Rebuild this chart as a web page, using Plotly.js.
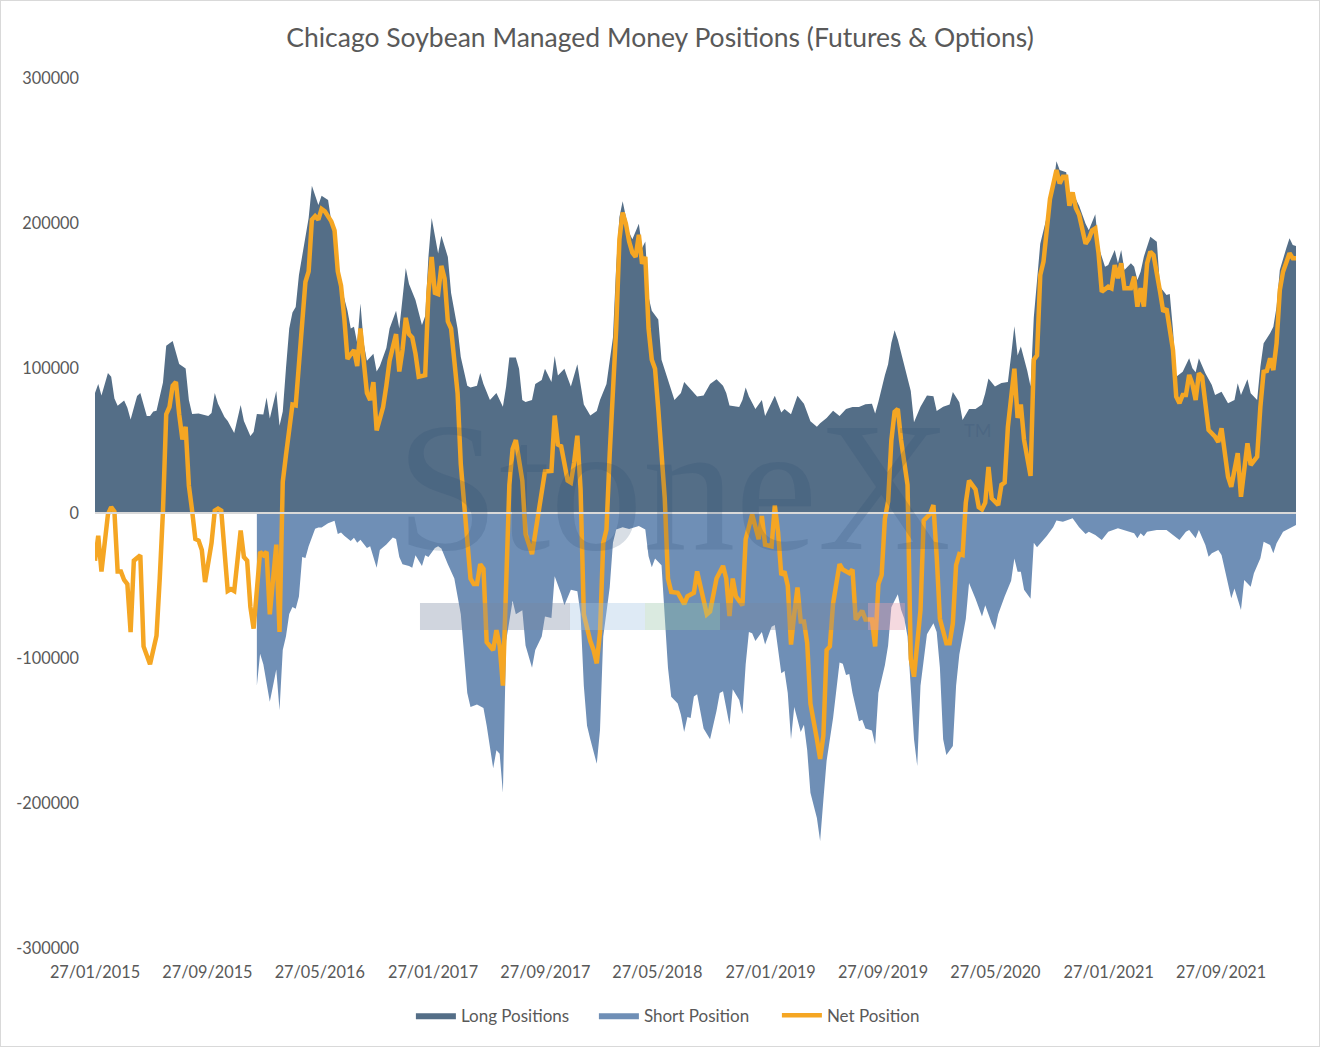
<!DOCTYPE html>
<html>
<head>
<meta charset="utf-8">
<script src="https://cdn.plot.ly/plotly-3.0.1.min.js"></script>
<style>
  body { margin: 0; background: #ffffff; }
  #myDiv { width: 1318px; height: 1045px; border: 1px solid #d9d9d9; }
</style>
</head>
<body>
<div id="myDiv"></div>
<script>
// Semanas contadas desde el 27/01/2015 (dato semanal del COT)
const longWeeks = [
    0, 1, 2, 4, 5, 6, 7, 9, 10, 11,
    13, 14, 16, 17, 18, 19, 21, 22, 24, 26,
    28, 29, 30, 32, 35, 36, 37, 38, 40, 41,
    43, 45, 46, 48, 49, 50, 52, 53, 54, 56,
    57, 58, 59, 60, 61, 62, 63, 65, 66, 67,
    69, 70, 72, 73, 75, 76, 78, 79, 80, 81,
    82, 83, 84, 86, 87, 88, 90, 91, 93, 94,
    95, 96, 97, 99, 101, 102, 103, 104, 106, 107,
    109, 110, 112, 113, 115, 116, 118, 119, 120, 122,
    124, 126, 127, 128, 130, 131, 132, 133, 135, 136,
    138, 139, 141, 142, 143, 145, 146, 147, 149, 150,
    151, 153, 155, 156, 158, 160, 161, 162, 163, 165,
    166, 168, 169, 170, 171, 172, 174, 175, 177, 178,
    179, 181, 182, 184, 186, 188, 190, 192, 194, 195,
    196, 199, 200, 201, 202, 204, 206, 207, 210, 212,
    213, 215, 217, 219, 221, 223, 224, 226, 228, 230,
    232, 234, 236, 238, 240, 241, 242, 244, 245, 246,
    247, 248, 250, 252, 253, 255, 257, 259, 260, 262,
    264, 265, 267, 268, 270, 272, 274, 275, 276, 278,
    280, 282, 283, 284, 285, 286, 288, 289, 290, 291,
    292, 294, 296, 297, 298, 300, 301, 302, 304, 306,
    307, 309, 310, 312, 313, 315, 316, 317, 318, 320,
    321, 322, 323, 324, 326, 328, 329, 331, 332, 333,
    334, 336, 338, 339, 340, 341, 343, 345, 346, 348,
    349, 350, 352, 353, 354, 356, 357, 359, 360, 361,
    363, 364, 365, 366, 368, 369, 370, 371
];
const longValues = [
    82800, 89000, 81000, 96500, 94000, 79000, 74000, 77500, 72500, 64400,
    80700, 82800, 66900, 66900, 70000, 70500, 90000, 115400, 118600, 102800,
    99600, 77900, 68300, 68600, 66900, 69000, 82800, 75400, 66200, 63400,
    55200, 74500, 63400, 53100, 55900, 68300, 68000, 79600, 65100, 84100,
    60200, 70000, 100000, 127200, 138300, 142000, 164100, 190000, 203500, 225700,
    212400, 218800, 215900, 201100, 176600, 156800, 139500, 127200, 128400, 117300,
    144400, 117300, 105000, 109900, 97600, 101400, 113800, 127200, 139500, 127200,
    146900, 169000, 157900, 146900, 129700, 135900, 176600, 203500, 178900, 191200,
    176600, 151800, 127200, 107600, 87800, 86600, 87800, 96500, 89000, 77900,
    82800, 73300, 87200, 107200, 107200, 99500, 77900, 76500, 78000, 89000,
    91700, 99500, 90300, 108300, 94900, 99500, 93300, 87200, 102600, 87200,
    74800, 67200, 70300, 77900, 89000, 121000, 170400, 204100, 215000, 193400,
    188800, 199500, 182700, 187200, 149000, 139500, 133400, 105700, 91700, 84100,
    77900, 82800, 90300, 85300, 80400, 81000, 89000, 92200, 87800, 82800,
    74200, 73100, 77900, 86600, 80400, 71700, 77900, 66900, 80900, 69300,
    71700, 68100, 80900, 75400, 63200, 59400, 61900, 65600, 70600, 66900,
    71700, 73100, 73100, 75000, 75400, 68600, 76700, 95000, 102600, 117200,
    126000, 119500, 102600, 84100, 62600, 73300, 81000, 80500, 70300, 73300,
    74800, 83400, 76400, 64100, 71700, 71700, 74800, 82600, 92700, 87200,
    89600, 90300, 108700, 128800, 108700, 114900, 97900, 87200, 134900, 157900,
    185700, 204100, 225700, 242600, 236600, 235000, 221100, 221000, 211900, 199500,
    195000, 206000, 183700, 169900, 171000, 181400, 172200, 181400, 167600, 172200,
    169900, 160700, 166400, 176800, 190600, 187100, 156100, 150300, 151000, 126200,
    94000, 97400, 106700, 99800, 97000, 106700, 96300, 88300, 81400, 83700,
    80000, 75700, 78000, 89400, 81400, 92200, 82600, 77900, 100900, 117000,
    123900, 128500, 142300, 167600, 182600, 189400, 184800, 184100
];

// La serie corta empieza a principios de 2016
const shortWeeks = [
    50, 51, 52, 54, 55, 56, 57, 58, 59, 60,
    61, 62, 63, 64, 65, 66, 68, 69, 70, 72,
    74, 75, 76, 77, 79, 80, 81, 82, 84, 85,
    87, 88, 90, 91, 92, 93, 94, 95, 97, 98,
    99, 101, 102, 103, 105, 106, 107, 109, 111, 113,
    114, 115, 116, 118, 120, 121, 123, 124, 125, 126,
    127, 129, 130, 132, 133, 135, 136, 138, 139, 141,
    142, 144, 145, 147, 149, 150, 151, 152, 153, 155,
    156, 157, 159, 160, 161, 163, 165, 167, 168, 170,
    171, 172, 173, 175, 176, 177, 178, 180, 181, 182,
    183, 184, 185, 186, 188, 190, 192, 193, 194, 196,
    197, 199, 200, 201, 202, 203, 204, 206, 207, 209,
    210, 211, 212, 213, 214, 215, 216, 218, 219, 220,
    221, 223, 224, 225, 226, 228, 230, 231, 232, 233,
    234, 236, 237, 238, 240, 241, 242, 244, 245, 246,
    248, 249, 250, 251, 252, 253, 254, 255, 257, 259,
    260, 261, 262, 263, 265, 266, 267, 269, 270, 272,
    274, 275, 277, 278, 279, 281, 283, 284, 285, 286,
    287, 289, 290, 291, 292, 294, 296, 297, 299, 300,
    302, 304, 306, 307, 309, 311, 313, 316, 319, 321,
    322, 323, 324, 325, 328, 331, 333, 335, 337, 338,
    340, 341, 343, 344, 345, 347, 348, 349, 350, 351,
    352, 354, 355, 357, 358, 360, 361, 363, 364, 365,
    367, 369, 371
];
const shortValues = [
    -119100, -97000, -104300, -130200, -119100, -108000, -136000, -94500, -85000, -69700,
    -64800, -66000, -57500, -30300, -31000, -23000, -10800, -10000, -10000, -7000,
    -5300, -14500, -13500, -15700, -19300, -17000, -20600, -18500, -24200, -23000,
    -37800, -25500, -21800, -19300, -16900, -18000, -30300, -35300, -36500, -37800,
    -29200, -36500, -29200, -30300, -24200, -23000, -24500, -35300, -45200, -69900,
    -94500, -124100, -133800, -132000, -134500, -146800, -176100, -163700, -166000, -193000,
    -88300, -60600, -69900, -67000, -91400, -106800, -94500, -85200, -71400, -72500,
    -43700, -55900, -63700, -52900, -54000, -69900, -119100, -146800, -156000, -172900,
    -149900, -85200, -51400, -20600, -11400, -9800, -11000, -10000, -9000, -11400,
    -29800, -37500, -31400, -36000, -69900, -106800, -126800, -131400, -139100, -151000,
    -140700, -141300, -126500, -125000, -148700, -156000, -136400, -124100, -123000, -146200,
    -121600, -129000, -138800, -104300, -82100, -83000, -88300, -82100, -90700, -78500,
    -77200, -95700, -110500, -109000, -124100, -156000, -133800, -151000, -146000, -163400,
    -193000, -210300, -226200, -197900, -170800, -141300, -103100, -104000, -111700, -111000,
    -124100, -143700, -142600, -148700, -150000, -159700, -124100, -105000, -91400, -65000,
    -56000, -66800, -72900, -85200, -119100, -156000, -174500, -119100, -83700, -76000,
    -82000, -106800, -156000, -166900, -160700, -119100, -97600, -72900, -48300, -59100,
    -71400, -63700, -76000, -80700, -69900, -57500, -46800, -31400, -40600, -40600,
    -52900, -59100, -20600, -23700, -21000, -15900, -9800, -5200, -6000, -5200,
    -3700, -9800, -14500, -12900, -15200, -18600, -12900, -10600, -12900, -14000,
    -17500, -14000, -16100, -12900, -11700, -11700, -15200, -18600, -12900, -11700,
    -17500, -11700, -22000, -30100, -27800, -25500, -29000, -39300, -50800, -58800,
    -52000, -66900, -46200, -50800, -41600, -31200, -19800, -22000, -27800, -20900,
    -12900, -10600, -8300
];

const netWeeks = [
    0, 1, 2, 4, 5, 6, 7, 8, 9, 10,
    11, 12, 14, 15, 17, 19, 20, 21, 22, 23,
    24, 25, 26, 27, 28, 29, 30, 31, 32, 33,
    34, 36, 37, 38, 39, 40, 41, 42, 43, 45,
    46, 47, 48, 49, 50, 51, 52, 53, 54, 55,
    56, 57, 58, 59, 61, 62, 64, 65, 66, 67,
    68, 69, 70, 71, 73, 74, 75, 76, 77, 78,
    80, 81, 82, 83, 84, 85, 86, 87, 89, 90,
    91, 93, 94, 95, 96, 97, 98, 99, 100, 102,
    103, 104, 105, 106, 107, 108, 109, 110, 112, 113,
    115, 116, 117, 118, 119, 120, 121, 123, 124, 125,
    126, 127, 128, 129, 130, 132, 133, 135, 136, 137,
    138, 139, 141, 142, 143, 144, 146, 147, 148, 149,
    150, 151, 153, 154, 155, 156, 157, 158, 159, 161,
    162, 163, 164, 165, 166, 167, 168, 169, 170, 171,
    172, 173, 174, 176, 177, 178, 180, 182, 183, 185,
    186, 188, 189, 190, 192, 194, 195, 196, 197, 198,
    200, 201, 203, 205, 206, 207, 209, 210, 211, 212,
    213, 214, 215, 216, 217, 218, 219, 220, 221, 223,
    224, 225, 226, 227, 228, 230, 231, 233, 234, 235,
    237, 238, 240, 241, 242, 243, 244, 245, 246, 247,
    248, 249, 251, 252, 253, 255, 256, 258, 259, 260,
    261, 263, 264, 265, 266, 267, 268, 269, 270, 272,
    273, 274, 275, 276, 277, 279, 280, 281, 282, 284,
    285, 286, 287, 289, 290, 291, 292, 293, 294, 295,
    297, 298, 299, 300, 301, 302, 303, 304, 306, 307,
    308, 309, 310, 311, 313, 314, 315, 316, 317, 318,
    320, 321, 322, 323, 324, 325, 326, 327, 329, 330,
    331, 333, 334, 335, 336, 337, 338, 339, 340, 341,
    342, 343, 344, 346, 347, 348, 349, 350, 351, 353,
    354, 355, 356, 357, 359, 360, 361, 362, 363, 364,
    365, 366, 367, 369, 370, 371
];
const netValues = [
    -32900, -15700, -40300, -900, 4100, 1000, -40300, -40300, -46200, -49000,
    -82100, -32900, -29200, -92000, -104300, -84600, -45200, 1600, 68100, 73100,
    87800, 90300, 68100, 50800, 59400, 18800, 1600, -17900, -19000, -25500,
    -47600, -20600, 1600, 3000, 1600, -25500, -53800, -52500, -53800, -12000,
    -30300, -32900, -64800, -79700, -52600, -26800, -29000, -26800, -69900, -45200,
    -21800, -82100, 21400, 40000, 74800, 74200, 134600, 159300, 166600, 202300,
    204800, 202300, 209700, 208000, 201100, 194900, 166600, 156800, 134600, 106200,
    112400, 101400, 127200, 102600, 82800, 77900, 90300, 57000, 73100, 87800,
    105000, 123400, 97600, 112400, 134600, 123400, 121000, 109900, 93900, 95000,
    151800, 176600, 151800, 151000, 170400, 161700, 132100, 127200, 82800, 33600,
    -15700, -45200, -49000, -49000, -35300, -38500, -89000, -94500, -80700, -91400,
    -119100, -57500, 19400, 44100, 50300, 22400, -14500, -28300, -14500, -2100,
    14800, 28700, 29000, 67200, 47200, 46000, 22400, 21000, 34800, 53300,
    16300, -69900, -88300, -94500, -103700, -82100, -20600, -11400, 41000, 127200,
    188800, 207200, 199500, 187200, 179500, 176600, 191900, 171900, 176600, 127200,
    105700, 99500, 71700, 10300, -45200, -54500, -55000, -62900, -57500, -55000,
    -40300, -60000, -69900, -68000, -45200, -36500, -45200, -71000, -45200, -57500,
    -63700, -18100, -900, -18100, -2100, -21800, -23000, 5200, -13100, -42800,
    -40300, -50100, -90700, -69900, -51400, -74800, -74800, -89600, -131400, -156000,
    -169600, -153600, -94500, -92000, -62500, -35300, -39000, -41500, -39000, -73500,
    -67400, -73500, -73500, -92000, -49000, -42800, -4000, 8000, 50000, 69700,
    71700, 50300, 19400, -100700, -112900, -66800, -5200, -500, 5500, -29800,
    -72900, -89900, -89900, -76000, -35900, -28300, -29000, 7100, 22400, 16300,
    4000, 2500, 7100, 31700, 10200, 5500, 19400, 21000, 59400, 99500,
    65600, 74800, 50300, 25600, 105700, 108700, 164100, 173400, 193400, 216500,
    236600, 227200, 231900, 231900, 211900, 221100, 210300, 205700, 185700, 189000,
    194900, 196300, 179100, 152600, 156100, 155000, 171000, 161900, 172200, 155000,
    155000, 163000, 142300, 155000, 142300, 172200, 180200, 177900, 152600, 138800,
    141000, 112400, 80200, 75700, 81400, 81400, 95200, 89000, 77900, 96300,
    94000, 73300, 57200, 52600, 49000, 58400, 41200, 25000, 18100, 41200,
    11200, 29700, 48100, 33100, 38800, 73300, 97400, 98000, 106700, 98600,
    117000, 153800, 166400, 179100, 175700, 175700
];

// Etiquetas de los ejes
const xTickDates = ['2015-01-27', '2015-09-27', '2016-05-27', '2017-01-27', '2017-09-27', '2018-05-27',
                    '2019-01-27', '2019-09-27', '2020-05-27', '2021-01-27', '2021-09-27'];
const xTickLabels = ['27/01/2015', '27/09/2015', '27/05/2016', '27/01/2017', '27/09/2017', '27/05/2018',
                     '27/01/2019', '27/09/2019', '27/05/2020', '27/01/2021', '27/09/2021'];
const yTickVals = [-300000, -200000, -100000, 0, 100000, 200000, 300000];
const yTickLabels = ['-300000', '-200000', '-100000', '0', '100000', '200000', '300000'];

const startUtc = Date.UTC(2015, 0, 27);
function weekToDate(w) {
    return new Date(startUtc + w * 7 * 86400000).toISOString().slice(0, 10);
}

const textColor = '#595959';
const fontFamily = 'Lato, "Liberation Sans", sans-serif';

let traceLong = {
    x: longWeeks.map(weekToDate),
    y: longValues,
    type: 'scatter',
    mode: 'lines',
    name: 'Long Positions',
    fill: 'tozeroy',
    fillcolor: '#546e87',
    line: { width: 0, color: '#546e87' },
    hoverinfo: 'none'
};

let traceShort = {
    x: shortWeeks.map(weekToDate),
    y: shortValues,
    type: 'scatter',
    mode: 'lines',
    name: 'Short Position',
    fill: 'tozeroy',
    fillcolor: '#6f8fb6',
    line: { width: 0, color: '#6f8fb6' },
    hoverinfo: 'none'
};

let traceNet = {
    x: netWeeks.map(weekToDate),
    y: netValues,
    type: 'scatter',
    mode: 'lines',
    name: 'Net Position',
    line: { width: 4.5, color: '#f5a623' },
    hoverinfo: 'none'
};

// Marca de agua (coordenadas del papel)
const wmColor = 'rgba(40, 70, 110, 0.18)';
function wmBar(x0, x1, color) {
    return {
        type: 'rect', xref: 'paper', yref: 'paper', layer: 'above',
        x0: x0, x1: x1, y0: 0.3655, y1: 0.3966,
        fillcolor: color, line: { width: 0 }
    };
}

let layout = {
    title: {
        text: 'Chicago Soybean Managed Money Positions (Futures & Options)',
        font: { family: fontFamily, size: 26.5, color: textColor },
        x: 0.5, xref: 'container', y: 0.965, yref: 'container', yanchor: 'middle'
    },
    width: 1318,
    height: 1045,
    paper_bgcolor: '#ffffff',
    plot_bgcolor: '#ffffff',
    margin: { l: 94, r: 23, t: 77, b: 98 },
    font: { family: fontFamily, color: textColor },
    xaxis: {
        type: 'date',
        range: [weekToDate(0), weekToDate(371)],
        tickvals: xTickDates,
        ticktext: xTickLabels,
        showgrid: false,
        zeroline: false,
        showline: false,
        ticks: '',
        ticklabelstandoff: 13,
        tickfont: { family: fontFamily, size: 16.3, color: textColor },
        fixedrange: true
    },
    yaxis: {
        range: [-300000, 300000],
        tickvals: yTickVals,
        ticktext: yTickLabels,
        showgrid: false,
        zeroline: false,
        showline: false,
        ticks: '',
        ticklabelstandoff: 15,
        tickfont: { family: fontFamily, size: 16.3, color: textColor },
        fixedrange: true
    },
    showlegend: true,
    legend: {
        orientation: 'h',
        xref: 'container', yref: 'container',
        x: 0.311, xanchor: 'left',
        y: 0.029, yanchor: 'middle',
        font: { family: fontFamily, size: 17, color: textColor },
        itemwidth: 40,
        entrywidth: 128,
        traceorder: 'normal'
    },
    shapes: [
        {
            type: 'line', xref: 'paper', yref: 'y', layer: 'above',
            x0: 0, x1: 1, y0: 0, y1: 0,
            line: { color: '#d9d9d9', width: 2 }
        },
        wmBar(0.2706, 0.3955, 'rgba(120, 135, 160, 0.35)'),
        wmBar(0.3955, 0.4580, 'rgba(160, 195, 225, 0.35)'),
        wmBar(0.4580, 0.5204, 'rgba(150, 195, 165, 0.35)'),
        wmBar(0.5204, 0.6436, 'rgba(120, 135, 160, 0.35)'),
        wmBar(0.6436, 0.6744, 'rgba(230, 160, 175, 0.40)')
    ],
    annotations: [
        {
            xref: 'paper', yref: 'paper', x: 0.482, y: 0.53,
            xanchor: 'center', yanchor: 'middle',
            text: 'StoneX', showarrow: false,
            font: { family: '"Liberation Serif", serif', size: 185, color: wmColor }
        },
        {
            xref: 'paper', yref: 'paper', x: 0.735, y: 0.595,
            xanchor: 'center', yanchor: 'middle',
            text: 'TM', showarrow: false,
            font: { family: fontFamily, size: 18, color: wmColor }
        }
    ]
};

Plotly.newPlot('myDiv', [traceLong, traceShort, traceNet], layout, { displayModeBar: false, staticPlot: true });
</script>
</body>
</html>
